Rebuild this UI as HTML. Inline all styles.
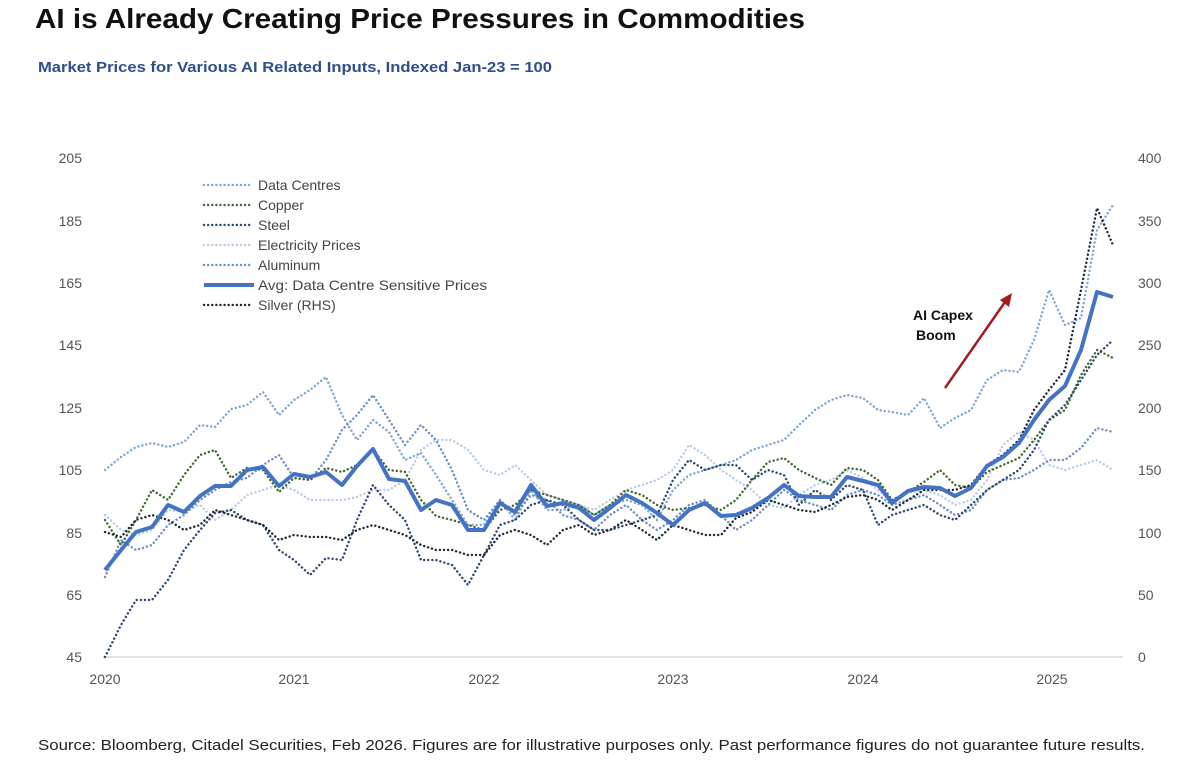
<!DOCTYPE html><html><head><meta charset="utf-8"><style>
body{margin:0;background:#fff;width:1200px;height:760px;overflow:hidden;font-family:"Liberation Sans",sans-serif}
</style></head><body>
<svg width="1200" height="760" viewBox="0 0 1200 760" xmlns="http://www.w3.org/2000/svg" font-family="Liberation Sans, sans-serif">
<text x="35" y="28" font-size="28" font-weight="bold" fill="#111" textLength="770" lengthAdjust="spacingAndGlyphs">AI is Already Creating Price Pressures in Commodities</text>
<text x="38" y="72" font-size="15" font-weight="bold" fill="#2e4e8e" textLength="514" lengthAdjust="spacingAndGlyphs">Market Prices for Various AI Related Inputs, Indexed Jan-23 = 100</text>
<g font-size="14" fill="#555" text-anchor="end">
<text x="82" y="163">205</text><text x="82" y="226">185</text><text x="82" y="288">165</text><text x="82" y="350">145</text><text x="82" y="413">125</text><text x="82" y="475">105</text><text x="82" y="538">85</text><text x="82" y="600">65</text><text x="82" y="662">45</text>
</g>
<g font-size="14" fill="#555">
<text x="1138" y="163">400</text><text x="1138" y="226">350</text><text x="1138" y="288">300</text><text x="1138" y="350">250</text><text x="1138" y="413">200</text><text x="1138" y="475">150</text><text x="1138" y="538">100</text><text x="1138" y="600">50</text><text x="1138" y="662">0</text>
</g>
<line x1="103" y1="657" x2="1123" y2="657" stroke="#d9d9d9" stroke-width="1.5"/>
<g font-size="14" fill="#555" text-anchor="middle">
<text x="105" y="684">2020</text><text x="294" y="684">2021</text><text x="484" y="684">2022</text><text x="673" y="684">2023</text><text x="863" y="684">2024</text><text x="1052" y="684">2025</text>
</g>
<g fill="none" stroke-width="2.4" stroke-linecap="round" stroke-linejoin="round" stroke-dasharray="0.1 4">
<polyline stroke="#b8cce4" points="105,515 121,530 136,535 152,530 168,510 184,512 200,505 215,520 231,510 247,495 263,490 279,485 294,490 310,500 326,500 342,500 357,497 373,490 389,490 405,480 421,450 436,440 452,440 468,450 484,470 500,475 515,465 531,480 547,495 563,500 579,505 594,510 610,500 626,490 642,485 657,480 673,470 689,445 705,455 721,470 736,480 752,490 768,505 784,508 799,495 815,485 831,480 847,470 863,478 878,490 892,500 908,493 924,490 940,495 955,505 971,500 987,480 1003,445 1019,432 1034,440 1049,465 1065,470 1081,465 1097,460 1113,470"/>
<polyline stroke="#7ea6d4" points="105,470 121,457 136,447 152,443 168,447 184,442 200,425 215,427 231,409 247,405 263,392 279,415 294,400 310,390 326,377 342,415 357,440 373,420 389,432 405,460 421,453 436,475 452,500 468,525 484,525 500,500 515,520 531,490 547,510 563,510 579,505 594,515 610,505 626,500 642,505 657,520 673,490 689,475 705,470 721,465 736,460 752,450 768,445 784,440 799,425 815,410 831,400 847,395 863,398 878,410 892,412 908,415 924,398 940,428 955,418 971,410 987,380 1003,370 1019,372 1034,340 1049,290 1065,325 1081,318 1097,230 1113,205"/>
<polyline stroke="#6b8fc4" points="105,577 121,540 136,550 152,545 168,525 184,515 200,500 215,490 231,482 247,478 263,465 279,455 294,478 310,480 326,460 342,430 357,415 373,395 389,420 405,445 421,425 436,440 452,470 468,510 484,520 500,500 515,515 531,495 547,500 563,515 579,520 594,530 610,515 626,505 642,520 657,530 673,520 689,505 705,500 721,515 736,530 752,520 768,505 784,490 799,500 815,505 831,510 847,495 863,490 878,495 892,505 908,500 924,495 940,505 955,515 971,510 987,490 1003,480 1019,478 1034,470 1049,460 1065,460 1081,448 1097,428 1113,432"/>
<polyline stroke="#3d6b2a" points="105,520 121,545 136,520 152,490 168,500 184,475 200,455 215,450 231,478 247,468 263,470 279,492 294,478 310,480 326,468 342,472 357,465 373,450 389,470 405,472 421,500 436,516 452,520 468,525 484,530 500,510 515,505 531,490 547,495 563,500 579,505 594,515 610,505 626,490 642,495 657,505 673,510 689,508 705,505 721,510 736,500 752,480 768,462 784,458 799,470 815,478 831,485 847,468 863,470 878,480 892,500 908,492 924,482 940,470 955,485 971,488 987,472 1003,465 1019,458 1034,440 1049,420 1065,410 1081,375 1097,350 1113,358"/>
<polyline stroke="#2c4770" points="105,657 121,625 136,600 152,600 168,580 184,550 200,530 215,513 231,510 247,520 263,525 279,550 294,560 310,575 326,558 342,560 357,520 373,485 389,505 405,520 421,560 436,560 452,565 468,585 484,555 500,525 515,520 531,505 547,500 563,505 579,520 594,530 610,530 626,525 642,520 657,515 673,480 689,460 705,470 721,465 736,465 752,480 768,470 784,475 799,505 815,490 831,500 847,485 863,490 878,525 892,515 908,510 924,505 940,515 955,520 971,505 987,490 1003,480 1019,470 1034,450 1049,420 1065,405 1081,380 1097,355 1113,340"/>
<polyline stroke="#1f2a36" points="105,532 121,537 136,520 152,515 168,520 184,530 200,525 215,510 231,515 247,520 263,525 279,540 294,535 310,537 326,537 342,540 357,530 373,525 389,530 405,535 421,545 436,550 452,550 468,555 484,555 500,535 515,530 531,535 547,545 563,530 579,525 594,535 610,530 626,520 642,530 657,540 673,525 689,530 705,535 721,535 736,518 752,512 768,500 784,505 799,510 815,512 831,505 847,497 863,495 878,500 892,510 908,500 924,490 940,490 955,490 971,485 987,465 1003,455 1019,440 1034,410 1049,390 1065,370 1081,290 1097,208 1113,245"/>
</g>
<polyline fill="none" stroke="#4472c4" stroke-width="4" stroke-linejoin="round" points="105,570 121,550 136,532 152,527 168,505 184,512 200,496 215,486 231,486 247,470 263,467 279,486 294,474 310,477 326,472 342,485 357,466 373,449 389,479 405,481 421,510 436,500 452,505 468,530 484,530 500,503 515,512 531,485 547,506 563,503 579,508 594,520 610,508 626,495 642,503 657,513 673,525 689,510 705,503 721,516 736,515 752,508 768,498 784,485 799,496 815,497 831,497 847,477 863,481 878,485 892,503 908,491 924,487 940,488 955,496 971,488 987,466 1003,457 1019,443 1034,420 1049,400 1065,386 1081,350 1097,292 1113,297"/>
<text x="913" y="320" font-size="14" font-weight="bold" fill="#111">AI Capex</text>
<text x="916" y="340" font-size="14" font-weight="bold" fill="#111">Boom</text>
<line x1="945" y1="388" x2="1005" y2="302" stroke="#a11d1d" stroke-width="2.5"/>
<polygon points="1012,293 1000,300 1009,307" fill="#a11d1d"/>
<g fill="none" stroke-width="2.4" stroke-linecap="round" stroke-dasharray="0.1 4">
<line x1="204" y1="185" x2="252" y2="185" stroke="#7ea6d4"/>
<line x1="204" y1="205" x2="252" y2="205" stroke="#3d6b2a"/>
<line x1="204" y1="225" x2="252" y2="225" stroke="#2c4770"/>
<line x1="204" y1="245" x2="252" y2="245" stroke="#b8cce4"/>
<line x1="204" y1="265" x2="252" y2="265" stroke="#6b8fc4"/>
<line x1="204" y1="305" x2="252" y2="305" stroke="#1f2a36"/>
</g>
<line x1="204" y1="285" x2="254" y2="285" stroke="#4472c4" stroke-width="4"/>
<g font-size="14" fill="#444">
<text x="258" y="190">Data Centres</text><text x="258" y="210">Copper</text><text x="258" y="230">Steel</text><text x="258" y="250">Electricity Prices</text><text x="258" y="270">Aluminum</text><text x="258" y="290" textLength="229" lengthAdjust="spacingAndGlyphs">Avg: Data Centre Sensitive Prices</text><text x="258" y="310">Silver (RHS)</text>
</g>
<text x="38" y="750" font-size="15" fill="#222" textLength="1107" lengthAdjust="spacingAndGlyphs">Source: Bloomberg, Citadel Securities, Feb 2026. Figures are for illustrative purposes only. Past performance figures do not guarantee future results.</text>
</svg>
</body></html>
